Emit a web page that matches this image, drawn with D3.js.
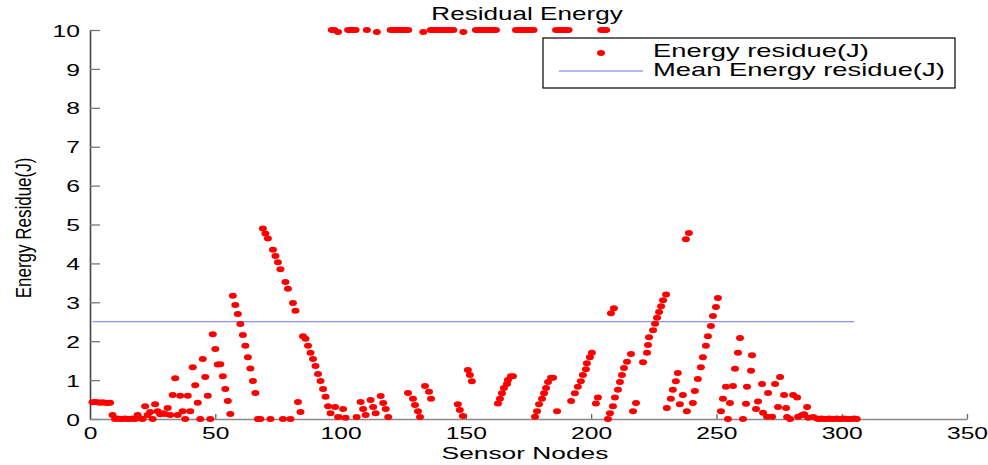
<!DOCTYPE html>
<html>
<head>
<meta charset="utf-8">
<script src="https://cdn.jsdelivr.net/npm/d3@7"></script>
<style>
  html, body { margin: 0; padding: 0; background: #fff; }
  svg { display: block; }
  text { font-family: "Liberation Sans", Arial, sans-serif; fill: #000; }
</style>
</head>
<body>
<svg id="chart" width="988" height="465"></svg>
<script>
// Residual energy per sensor node (J)
const sensorNodes = [
  1,2,3,4,5,6,7,8,9,10,11,12,13,14,15,16,17,18,19,20,21,
  22,23,24,25,26,27,28,29,30,31,32,33,34,35,36,37,38,39,40,
  41,42,43,44,45,46,47,48,49,50,51,52,53,54,55,56,
  57,58,59,60,61,62,63,64,65,66,67,68,
  69,70,71,72,73,74,75,76,77,78,79,80,81,82,83,84,
  85,86,87,88,89,90,91,92,93,94,95,96,
  96.5,97.5,97.8,99,99,101,102,103,104,105,106,106.4,108,109,110,110.5,
  112,113,114,114.5,116,117,118,119,120,121,122,123,124,125,126,127,
  126.9,128.9,129.7,130.9,131.7,133,133.7,135.3,136.1,
  136,137,138,139,140,141,142,143,144,145,
  146.8,147.6,148.8,149,150.8,151.6,152.4,
  154,155,156,157,158,159,160,161,162,
  162.8,163.6,164.4,165.2,166.4,166.8,168,168.8,
  170,171,172,173,174,175,176,177,
  177.6,178.4,179.2,180.4,181.2,182,182.8,184,184.8,
  186,187,188,189,190,191,186.4,
  192,193.5,194.7,195.9,196.7,197.9,198.3,199.5,200.3,201.9,202.7,
  204,205,206,
  206.7,207.5,208.7,209.5,210.7,211.5,212.3,213.1,214.3,215.9,216.7,217.9,
  207.9,209.1,
  220.7,222.3,222.7,223.1,224.7,225.5,226.3,227.1,227.9,228.7,229.9,
  230.2,231.8,232.6,233.8,234.6,235.4,236.6,237.8,238.2,239,
  240.6,241.4,242.6,243.8,244.6,245.8,246.6,247.8,248.6,249.8,250.6,
  251.8,252.6,253.8,254.6,255.4,256.6,257.4,258.6,259.4,260.6,
  261.8,262.2,263.8,264.2,265.8,266.6,268.2,268.6,270.2,270.6,
  272.2,273.4,274.6,275.4,277,277.8,278.2,279.4,280.6,282.2,282.6,
  284.2,285,286.2,286.6,288.6,
  290,291,292,293,294,295,296,297,298,299,300,301,302,303,304,305,306
];

const energyResidue = [
  0.43,0.44,0.43,0.42,0.43,0.42,0.41,0.42,0.10,0,0.01,0,0,0.01,0,0,0.01,0,0.10,0.02,0,
  0.33,0.10,0.18,0,0.38,0.20,0.12,0.15,0.13,0.28,0.10,0.62,1.05,0.10,0.60,0.20,0,0.60,0.20,
  1.33,0.87,0.42,0,1.54,1.08,0.60,0,2.18,1.80,1.40,1.41,1.10,0.77,0.46,0.13,
  3.17,2.93,2.70,2.44,2.16,1.88,1.59,1.30,0.98,0.67,0,0,
  4.90,4.77,4.64,0,4.35,4.19,4.03,3.85,0,3.52,3.35,0,2.98,2.78,0.44,0.18,
  2.13,2.06,1.88,1.70,1.54,1.36,1.16,0.98,0.77,0.57,0.33,0.15,
  10,10,0.31,9.95,0.05,0.26,0.03,10,10,10,10,0.05,0.44,0.26,0.10,10,
  0.49,0.31,0.15,9.95,0.59,0.41,0.26,0.05,10,10,10,10,10,10,10,10,
  0.67,0.52,0.36,0.20,0.05,9.95,0.85,0.70,0.52,
  10,10,10,10,10,10,10,10,10,10,
  0.38,0.23,0.08,9.95,1.26,1.13,0.97,
  10,10,10,10,10,10,10,10,10,
  0.40,0.52,0.66,0.80,0.90,1.00,1.10,1.10,
  10,10,10,10,10,10,10,10,
  0.06,0.20,0.38,0.52,0.66,0.80,0.95,1.06,1.06,
  10,10,10,10,10,10,0.20,
  0.46,0.66,0.83,0.97,1.13,1.28,1.43,1.59,1.70,0.40,0.55,
  10,10,10,
  0,0.15,0.33,0.55,0.75,0.95,1.13,1.31,1.47,1.67,0.20,0.41,
  2.72,2.85,
  1.46,1.70,1.90,2.10,2.28,2.45,2.60,2.75,2.90,3.05,3.20,
  0.28,0.52,0.75,0.97,1.18,0.38,0.62,4.62,0.20,4.78,
  0.41,0.72,1.03,1.33,1.59,1.88,2.13,2.39,2.65,2.88,3.11,
  0.20,0.52,0.83,0,0.41,0.85,1.29,1.70,2.08,0,
  0.39,0.83,1.24,1.64,0.26,0.45,0.90,0.16,0.06,0.67,
  0.06,0.90,0.31,1.08,0.62,0.28,0.05,0,0.62,0.55,0.06,
  0.10,0.12,0.31,0.03,0.05,
  0.01,0,0.01,0,0,0.01,0,0,0.01,0,0,0.01,0,0,0,0.01,0
];

const meanResidue = 2.5;
const meanSpan = [1, 305];

const xTicks = [0, 50, 100, 150, 200, 250, 300, 350];
const yTicks = [0, 1, 2, 3, 4, 5, 6, 7, 8, 9, 10];

const legendLabels = ["Energy residue(J)", "Mean Energy residue(J)"];

const STRETCH = 1.45; // horizontal text stretch of the figure

const svg = d3.select("#chart");

const x = d3.scaleLinear().domain([0, 350]).range([90, 967]);
const y = d3.scaleLinear().domain([0, 10]).range([419, 30]);

// Axes
const yAxis = d3.axisLeft(y).tickValues(yTicks).tickFormat(d3.format("d"))
  .tickSize(-10).tickSizeOuter(0).tickPadding(10);
const gy = svg.append("g").attr("transform", "translate(90,0)").call(yAxis);
gy.select(".domain").attr("stroke", "#444").attr("stroke-width", 1.6);
gy.selectAll(".tick line").attr("stroke", "#777").attr("stroke-width", 1.3);
gy.selectAll(".tick text")
  .attr("x", null).attr("dy", "0.36em")
  .attr("transform", `translate(-10,0) scale(${STRETCH},1)`)
  .style("font-size", "17px");

const xAxis = d3.axisBottom(x).tickValues(xTicks).tickFormat(d3.format("d"))
  .tickSize(-5).tickSizeOuter(0).tickPadding(8);
const gx = svg.append("g").attr("transform", "translate(0,419)").call(xAxis);
gx.select(".domain").attr("stroke", "#888").attr("stroke-width", 1.6);
gx.selectAll(".tick line").attr("stroke", "#666").attr("stroke-width", 1.3)
  .filter(d => d === 0).remove();
gx.selectAll(".tick text")
  .attr("transform", `scale(${STRETCH},1)`)
  .style("font-size", "17px");

// Mean line
svg.append("line")
  .attr("x1", x(meanSpan[0])).attr("x2", x(meanSpan[1]))
  .attr("y1", y(meanResidue)).attr("y2", y(meanResidue))
  .attr("stroke", "#7070ee").attr("stroke-width", 1.1);

// Residue points
svg.append("g").selectAll("ellipse")
  .data(d3.zip(sensorNodes, energyResidue))
  .join("ellipse")
  .attr("cx", d => x(d[0]))
  .attr("cy", d => y(d[1]))
  .attr("rx", 4).attr("ry", 3)
  .attr("fill", "#ff0000");

// Title and axis labels
svg.append("text")
  .attr("transform", `translate(527,20) scale(${STRETCH},1)`)
  .attr("text-anchor", "middle").style("font-size", "18px")
  .text("Residual Energy");

svg.append("text")
  .attr("transform", "translate(525,459) scale(1.55,1)")
  .attr("text-anchor", "middle").style("font-size", "17px")
  .text("Sensor Nodes");

svg.append("text")
  .attr("transform", "translate(31,228) scale(1.25,1) rotate(-90)")
  .attr("text-anchor", "middle").style("font-size", "17px")
  .text("Energy Residue(J)");

// Legend
const lg = svg.append("g");
lg.append("rect")
  .attr("x", 543).attr("y", 38).attr("width", 412).attr("height", 50)
  .attr("fill", "#fff").attr("stroke", "#000").attr("stroke-width", 1.2);
lg.append("ellipse").attr("cx", 601).attr("cy", 53).attr("rx", 4).attr("ry", 3)
  .attr("fill", "#ff0000");
lg.append("line").attr("x1", 559).attr("x2", 643).attr("y1", 71).attr("y2", 71)
  .attr("stroke", "#7070ee").attr("stroke-width", 1.1);
lg.selectAll("text.lbl").data(legendLabels).join("text")
  .attr("class", "lbl")
  .attr("transform", (d, i) => `translate(653,${57 + i * 19}) scale(1.52,1)`)
  .style("font-size", "18px")
  .text(d => d);
</script>
</body>
</html>
